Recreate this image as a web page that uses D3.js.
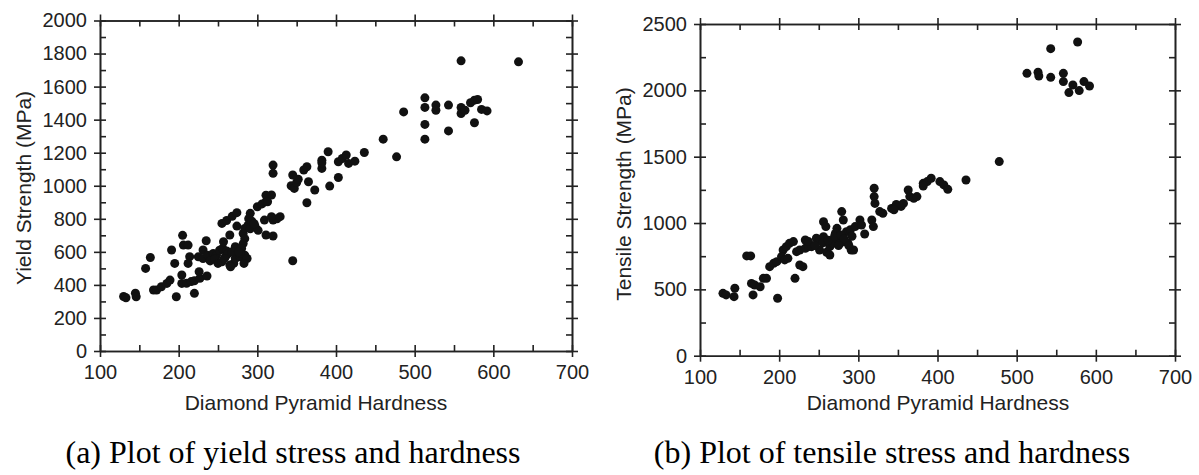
<!DOCTYPE html>
<html>
<head>
<meta charset="utf-8">
<script src="https://cdn.jsdelivr.net/npm/d3@7"></script>
<style>
  body { margin: 0; background: #fff; }
  svg text { fill: #222; }
</style>
</head>
<body>
<div id="container"></div>
<script>
let w = 1199;
let h = 475;

// hardness range and tick steps (same for both panels)
let hardnessDomain = [100, 700];
let hardnessTicks = [100, 200, 300, 400, 500, 600, 700];
let hardnessMinor = [150, 250, 350, 450, 550, 650];

// (a) yield strength vs hardness  [DPH, MPa]
let yieldData = [
  [130,330],[133,322],[145,350],[146,328],[158,500],[164,566],[168,369],[172,369],
  [178,389],[185,409],[189,429],[191,611],[197,328],[195,530],[205,700],[206,641],
  [212,641],[204,460],[204,409],[210,410],[216,420],[220,425],[227,440],[214,571],
  [212,530],[220,349],[226,480],[231,611],[235,667],[236,454],[225,570],[231,560],
  [237,580],[244,590],[248,580],[252,610],[256,620],[261,605],[257,661],[265,520],
  [270,530],[272,560],[278,570],[284,580],[265,702],[255,772],[261,790],[268,815],
  [274,837],[274,756],[272,631],[282,711],[284,680],[282,650],[280,620],[278,590],
  [287,560],[284,742],[288,760],[291,740],[297,755],[301,730],[291,833],[300,873],
  [306,890],[311,904],[320,1125],[320,1075],[318,944],[320,792],[325,800],[329,813],
  [320,696],[345,546],[343,1000],[347,984],[350,1020],[352,1040],[345,1065],[359,1095],
  [363,1115],[365,1024],[363,897],[373,974],[382,1155],[382,1105],[382,1139],[392,998],
  [390,1206],[403,1145],[408,1165],[413,1186],[403,1050],[416,1135],[424,1149],[436,1201],
  [460,1282],[477,1175],[486,1447],[513,1532],[513,1474],[513,1371],[513,1282],[527,1488],
  [527,1457],[543,1488],[543,1332],[559,1756],[632,1750],[559,1474],[559,1437],[564,1457],
  [571,1502],[576,1518],[580,1522],[576,1381],[585,1462],[592,1453],
  [240,545],[246,555],[250,530],[255,540],[260,575],[263,590],[268,600],[258,560],
  [266,510],[283,530],[276,600],[289,800],[293,785],[296,770],[309,792],[311,943],
  [311,702],[313,903],[318,813]
];
let yieldDomain = [0, 2000];
let yieldTicks = [0, 200, 400, 600, 800, 1000, 1200, 1400, 1600, 1800, 2000];
let yieldMinor = [100, 300, 500, 700, 900, 1100, 1300, 1500, 1700, 1900];

// (b) tensile strength vs hardness  [DPH, MPa]
let tensileData = [
  [129,470],[133,458],[144,508],[143,445],[159,752],[164,752],[165,545],[169,533],
  [167,458],[180,583],[184,583],[176,520],[188,671],[193,696],[197,709],[198,433],
  [205,797],[209,822],[213,847],[218,860],[203,747],[207,722],[211,734],[220,583],
  [226,684],[230,671],[222,784],[226,797],[233,809],[237,822],[241,822],[233,872],
  [237,860],[247,885],[251,873],[256,897],[251,797],[260,780],[264,759],[256,1010],
  [259,973],[264,822],[268,847],[273,885],[273,960],[271,922],[279,1086],[281,1023],
  [277,847],[283,860],[287,847],[285,935],[290,950],[296,973],[291,797],[294,797],
  [302,1023],[304,985],[308,917],[317,1023],[319,973],[320,1262],[320,1199],[321,1148],
  [327,1086],[331,1073],[342,1110],[346,1120],[350,1130],[354,1125],[357,1148],[348,1140],
  [345,1100],[363,1249],[365,1199],[370,1186],[374,1199],[382,1299],[387,1312],[392,1337],
  [403,1312],[408,1287],[413,1254],[382,1279],[436,1324],[478,1463],[513,2128],[527,2136],
  [528,2108],[543,2098],[543,2314],[559,2128],[559,2066],[566,1983],[571,2040],[577,2364],
  [579,1998],[585,2066],[592,2033],
  [245,830],[255,850],[262,870],[270,900],[278,910],[282,880],[288,830],[292,900],[275,830]
];
let tensileDomain = [0, 2500];
let tensileTicks = [0, 500, 1000, 1500, 2000, 2500];
let tensileMinor = [250, 750, 1250, 1750, 2250];

let xTitle = "Diamond Pyramid Hardness";

let panels = [
  { left: 100, right: 572, top: 20.5, bottom: 351, data: yieldData,
    yDomain: yieldDomain, yTicks: yieldTicks, yMinor: yieldMinor,
    yTitle: "Yield Strength (MPa)", yTitleX: 31, yTitleY: 188,
    xTitleX: 316, caption: "(a) Plot of yield stress and hardness", captionX: 293 },
  { left: 700, right: 1175, top: 24, bottom: 355.7, data: tensileData,
    yDomain: tensileDomain, yTicks: tensileTicks, yMinor: tensileMinor,
    yTitle: "Tensile Strength (MPa)", yTitleX: 631, yTitleY: 194,
    xTitleX: 938, caption: "(b) Plot of tensile stress and hardness", captionX: 892 }
];

let viz = d3.select("#container").append("svg")
    .attr("width", w)
    .attr("height", h);

let axisColor = "#222";

function styleAxis(g) {
  g.selectAll("path.domain").attr("stroke", axisColor).attr("stroke-width", 1.6);
  g.selectAll(".tick line").attr("stroke", axisColor).attr("stroke-width", 1.6);
  g.selectAll(".tick text")
    .style("font-family", "'Liberation Sans', Arial, sans-serif")
    .style("font-size", "20px")
    .attr("fill", "#222");
}

panels.forEach(function(p) {
  let x = d3.scaleLinear().domain(hardnessDomain).range([p.left, p.right]);
  let y = d3.scaleLinear().domain(p.yDomain).range([p.bottom, p.top]);
  let g = viz.append("g");

  // outward major ticks with labels (bottom + left)
  g.append("g").attr("transform", "translate(0," + p.bottom + ")")
    .call(d3.axisBottom(x).tickValues(hardnessTicks).tickSize(6).tickSizeOuter(0).tickPadding(8).tickFormat(d3.format("d")))
    .call(styleAxis);
  g.append("g").attr("transform", "translate(" + p.left + ",0)")
    .call(d3.axisLeft(y).tickValues(p.yTicks).tickSize(6).tickSizeOuter(0).tickPadding(7).tickFormat(d3.format("d")))
    .call(styleAxis);

  // outward major ticks, top + right (no labels)
  g.append("g").attr("transform", "translate(0," + p.top + ")")
    .call(d3.axisTop(x).tickValues(hardnessTicks).tickSize(6).tickSizeOuter(0).tickFormat(""))
    .call(styleAxis);
  g.append("g").attr("transform", "translate(" + p.right + ",0)")
    .call(d3.axisRight(y).tickValues(p.yTicks).tickSize(6).tickSizeOuter(0).tickFormat(""))
    .call(styleAxis);

  // inward ticks (major + minor) on all four sides
  let xIn = hardnessTicks.concat(hardnessMinor);
  let yIn = p.yTicks.concat(p.yMinor);
  g.append("g").attr("transform", "translate(0," + p.bottom + ")")
    .call(d3.axisBottom(x).tickValues(xIn).tickSize(-6).tickSizeOuter(0).tickFormat(""))
    .call(styleAxis);
  g.append("g").attr("transform", "translate(0," + p.top + ")")
    .call(d3.axisTop(x).tickValues(xIn).tickSize(-6).tickSizeOuter(0).tickFormat(""))
    .call(styleAxis);
  g.append("g").attr("transform", "translate(" + p.left + ",0)")
    .call(d3.axisLeft(y).tickValues(yIn).tickSize(-6).tickSizeOuter(0).tickFormat(""))
    .call(styleAxis);
  g.append("g").attr("transform", "translate(" + p.right + ",0)")
    .call(d3.axisRight(y).tickValues(yIn).tickSize(-6).tickSizeOuter(0).tickFormat(""))
    .call(styleAxis);

  // points
  g.selectAll(".datapoint").data(p.data).enter().append("circle")
    .attr("class", "datapoint")
    .attr("cx", function(d) { return x(d[0]); })
    .attr("cy", function(d) { return y(d[1]); })
    .attr("r", 4.5)
    .attr("fill", "#111");

  // axis titles
  g.append("text")
    .attr("x", p.xTitleX).attr("y", 410)
    .attr("text-anchor", "middle")
    .style("font-family", "'Liberation Sans', Arial, sans-serif")
    .style("font-size", "21px")
    .text(xTitle);
  g.append("text")
    .attr("transform", "translate(" + p.yTitleX + "," + p.yTitleY + ") rotate(-90)")
    .attr("text-anchor", "middle")
    .style("font-family", "'Liberation Sans', Arial, sans-serif")
    .style("font-size", "21px")
    .text(p.yTitle);

  // caption
  g.append("text")
    .attr("x", p.captionX).attr("y", 463)
    .attr("text-anchor", "middle")
    .style("font-family", "'Liberation Serif', 'Times New Roman', serif")
    .style("font-size", "32px")
    .style("fill", "#000")
    .text(p.caption);
});
</script>
</body>
</html>
